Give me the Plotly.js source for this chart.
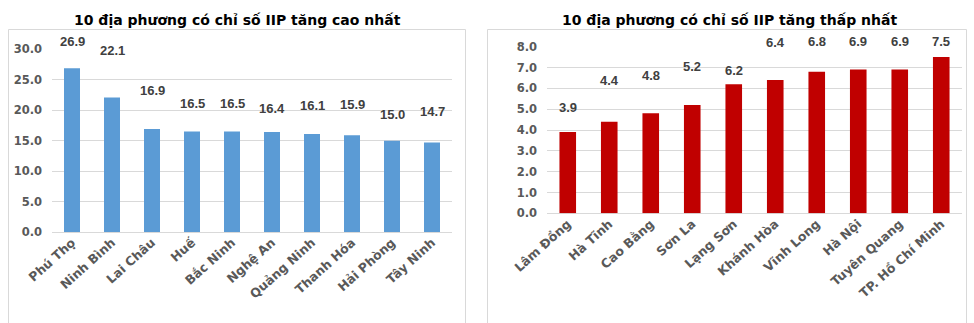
<!DOCTYPE html>
<html>
<head>
<meta charset="utf-8">
<script src="https://cdn.plot.ly/plotly-3.0.1.min.js"></script>
<style>html,body{margin:0;padding:0;background:#fff;}#chart{width:974px;height:323px;}</style>
</head>
<body>
<div id="chart"></div>
<script>
// ---- Data ----
const topTitle = "10 địa phương có chỉ số IIP tăng cao nhất";
const topCategories = ["Phú Thọ","Ninh Bình","Lai Châu","Huế","Bắc Ninh","Nghệ An","Quảng Ninh","Thanh Hóa","Hải Phòng","Tây Ninh"];
const topValues = [26.9, 22.1, 16.9, 16.5, 16.5, 16.4, 16.1, 15.9, 15.0, 14.7];

const lowTitle = "10 địa phương có chỉ số IIP tăng thấp nhất";
const lowCategories = ["Lâm Đồng","Hà Tĩnh","Cao Bằng","Sơn La","Lạng Sơn","Khánh Hòa","Vĩnh Long","Hà Nội","Tuyên Quang","TP. Hồ Chí Minh"];
const lowValues = [3.9, 4.4, 4.8, 5.2, 6.2, 6.4, 6.8, 6.9, 6.9, 7.5];

// ---- Styles (label offsets above bar tops, px) ----
const topLabelShift = [27, 47, 39, 28, 28, 24, 28, 31, 26, 31];
const lowLabelShift = [25, 41, 38, 39, 14, 38, 30, 28, 28, 16];

const W = 974, H = 323;
const px = v => v / W;
const py = v => 1 - v / H;

const WIDE = "DejaVu Sans, Verdana, sans-serif";
const ARIAL = "Liberation Sans, Arial, sans-serif";
const tickFont = {family: WIDE, size: 11.5, color: "#595959", weight: 700};
const xTickFont = {family: WIDE, size: 12.5, color: "#595959", weight: 700};
const labelFont = {family: ARIAL, size: 13, color: "#404040", weight: 700};
const titleFont = {family: WIDE, size: 14, color: "#000000", weight: 700};
const grid = "#d9d9d9";

const traces = [
  {type: "bar", x: topCategories, y: topValues, xaxis: "x", yaxis: "y",
   marker: {color: "#5B9BD5"}, hoverinfo: "x+y"},
  {type: "bar", x: lowCategories, y: lowValues, xaxis: "x2", yaxis: "y2",
   marker: {color: "#C00000"}, hoverinfo: "x+y"}
];

const annotations = [];
topCategories.forEach((c, i) => annotations.push({
  xref: "x", yref: "y", x: c, y: topValues[i], text: topValues[i].toFixed(1),
  showarrow: false, yanchor: "middle", yshift: topLabelShift[i], font: labelFont
}));
lowCategories.forEach((c, i) => annotations.push({
  xref: "x2", yref: "y2", x: c, y: lowValues[i], text: lowValues[i].toFixed(1),
  showarrow: false, yanchor: "middle", yshift: lowLabelShift[i], font: labelFont
}));
annotations.push({xref: "paper", yref: "paper", x: px(237), y: py(20.5), text: topTitle,
  showarrow: false, xanchor: "center", yanchor: "middle", font: titleFont});
annotations.push({xref: "paper", yref: "paper", x: px(729), y: py(20.5), text: lowTitle,
  showarrow: false, xanchor: "center", yanchor: "middle", font: titleFont});

const xCommon = {type: "category", tickangle: -42, tickfont: xTickFont, showgrid: false,
  showline: false, ticks: "", fixedrange: true, automargin: false};
const yCommon = {tickfont: tickFont, tickformat: ".1f", showgrid: true, gridcolor: grid,
  gridwidth: 1, zeroline: true, zerolinecolor: grid, zerolinewidth: 1, showline: false,
  ticks: "", ticklabelstandoff: 9, fixedrange: true, automargin: false};

const layout = {
  width: W, height: H,
  margin: {l: 0, r: 0, t: 0, b: 0},
  paper_bgcolor: "#ffffff", plot_bgcolor: "rgba(0,0,0,0)",
  showlegend: false,
  bargap: 0.6,
  xaxis: Object.assign({}, xCommon, {domain: [px(52), px(452)], anchor: "y"}),
  yaxis: Object.assign({}, yCommon, {domain: [py(232), py(49.3)], range: [0, 30], dtick: 5, anchor: "x"}),
  xaxis2: Object.assign({}, xCommon, {domain: [px(547), px(962)], anchor: "y2"}),
  yaxis2: Object.assign({}, yCommon, {domain: [py(213.3), py(46.7)], range: [0, 8], dtick: 1, anchor: "x2"}),
  annotations: annotations,
  shapes: [
    {type: "rect", xref: "paper", yref: "paper", x0: px(8.5), x1: px(465.5), y0: py(330), y1: py(29.5),
     line: {color: "#d9d9d9", width: 1}, fillcolor: "rgba(0,0,0,0)", layer: "below"},
    {type: "rect", xref: "paper", yref: "paper", x0: px(487.5), x1: px(966.5), y0: py(330), y1: py(29.5),
     line: {color: "#d9d9d9", width: 1}, fillcolor: "rgba(0,0,0,0)", layer: "below"}
  ]
};

Plotly.newPlot("chart", traces, layout, {staticPlot: true, displayModeBar: false});
</script>
</body>
</html>
